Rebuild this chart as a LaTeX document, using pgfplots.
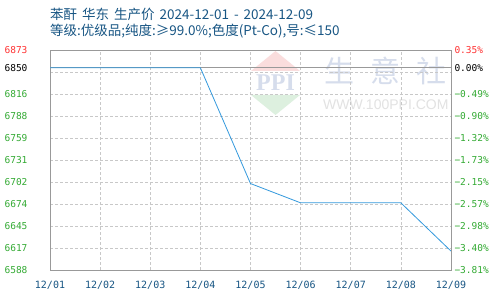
\documentclass[border=0pt]{standalone}
\usepackage{pgfplots}
\pgfplotsset{compat=1.18}
\usepackage{fontspec}
\setmainfont{Liberation Sans}
\newfontfamily\cjk{Noto Sans CJK SC}
\newfontfamily\mono{DejaVu Sans Mono}
\newfontfamily\wserif{Liberation Serif}
\definecolor{tblue}{RGB}{24,86,132}
\definecolor{tgreen}{RGB}{51,170,51}
\definecolor{tred}{RGB}{255,51,51}
\definecolor{lblue}{RGB}{51,153,221}
\definecolor{agray}{RGB}{153,153,153}
\definecolor{ggray}{RGB}{200,200,200}
\definecolor{wred}{RGB}{250,221,221}
\definecolor{wgreen}{RGB}{221,240,223}
\definecolor{wblue}{RGB}{214,221,236}
\definecolor{wgray}{RGB}{226,226,226}
\begin{document}
\begin{tikzpicture}[x=1pt,y=1pt]
\useasboundingbox (0,0) rectangle (500,300);
\fill[white] (0,0) rectangle (500,300);
% watermark
\fill[wred] (275.5,249) -- (300,229) -- (251,229) -- cycle;
\fill[wgreen] (251,205) -- (300,205) -- (275.5,185) -- cycle;
\node[text=wblue,inner sep=0] at (275.5,217.5) {\wserif\bfseries\fontsize{24}{24}\selectfont PPI};
\node[text=wblue,inner sep=0] at (339,229) {\cjk\fontsize{30}{30}\selectfont 生};
\node[text=wblue,inner sep=0] at (385,229) {\cjk\fontsize{30}{30}\selectfont 意};
\node[text=wblue,inner sep=0] at (431,229) {\cjk\fontsize{30}{30}\selectfont 社};
\node[text=wgray,inner sep=0,anchor=base west] at (323,190) {\fontsize{14}{14}\selectfont WWW.100PPI.COM};
% titles
\node[text=tblue,inner sep=0,anchor=base west] at (50,280.5) {\cjk\fontsize{13.5}{14}\selectfont 苯酐\hspace{5pt}华东\hspace{5pt}生产价\hspace{5pt}2024-12-01\hspace{5pt}-\hspace{5pt}2024-12-09};
\node[text=tblue,inner sep=0,anchor=base west] at (50,264) {\cjk\fontsize{13.5}{14}\selectfont 等级:优级品;纯度:≥99.0\%;色度(Pt-Co),号:≤150};
\begin{axis}[
  at={(50pt,30pt)}, anchor=south west,
  scale only axis, width=401pt, height=220pt,
  xmin=0, xmax=8, ymin=6588, ymax=6873,
  axis line style={draw=agray, line width=0.8pt},
  major tick length=0pt,
  xtick={0,...,8},
  xticklabels={12/01,12/02,12/03,12/04,12/05,12/06,12/07,12/08,12/09},
  xticklabel style={font=\mono\fontsize{10}{10}\selectfont, text=tblue, yshift=-8pt},
  ytick={6588,6616.5,6645,6673.5,6702,6730.5,6759,6787.5,6816,6844.5,6873},
  yticklabels={{\color{tgreen}6588},{\color{tgreen}6617},{\color{tgreen}6645},{\color{tgreen}6674},{\color{tgreen}6702},{\color{tgreen}6731},{\color{tgreen}6759},{\color{tgreen}6788},{\color{tgreen}6816},{},{\color{tred}6873}},
  yticklabel style={font=\mono\fontsize{9.5}{10}\selectfont, anchor=east, xshift=-19pt},
  extra y ticks={6850},
  extra y tick labels={{\color{black}6850}},
  extra y tick style={grid=major, major grid style={solid, draw=agray, line width=0.8pt}},
  grid=major,
  major grid style={draw=ggray, dash pattern=on 3pt off 2pt, line width=0.7pt},
]
\addplot[color=lblue, line width=0.8pt, mark=none] coordinates {
(0,6850) (1,6850) (2,6850) (3,6850) (4,6700) (5,6675) (6,6675) (7,6675) (8,6612.5)
};
\end{axis}
\begin{axis}[
  at={(50pt,30pt)}, anchor=south west,
  scale only axis, width=401pt, height=220pt,
  xmin=0, xmax=8, ymin=6588, ymax=6873,
  axis x line=none, axis y line*=right,
  axis line style={draw=agray, line width=0.8pt},
  major tick length=0pt,
  ytick={6588,6616.5,6645,6673.5,6702,6730.5,6759,6787.5,6816,6850,6873},
  yticklabels={{\color{tgreen}−3.81\%},{\color{tgreen}−3.40\%},{\color{tgreen}−2.98\%},{\color{tgreen}−2.57\%},{\color{tgreen}−2.15\%},{\color{tgreen}−1.73\%},{\color{tgreen}−1.32\%},{\color{tgreen}−0.90\%},{\color{tgreen}−0.49\%},{\color{black}0.00\%},{\color{tred}0.35\%}},
  yticklabel style={font=\mono\fontsize{9.5}{10}\selectfont, anchor=west},
]
\addplot[draw=none] coordinates {(0,6700)};
\end{axis}
\end{tikzpicture}
\end{document}
